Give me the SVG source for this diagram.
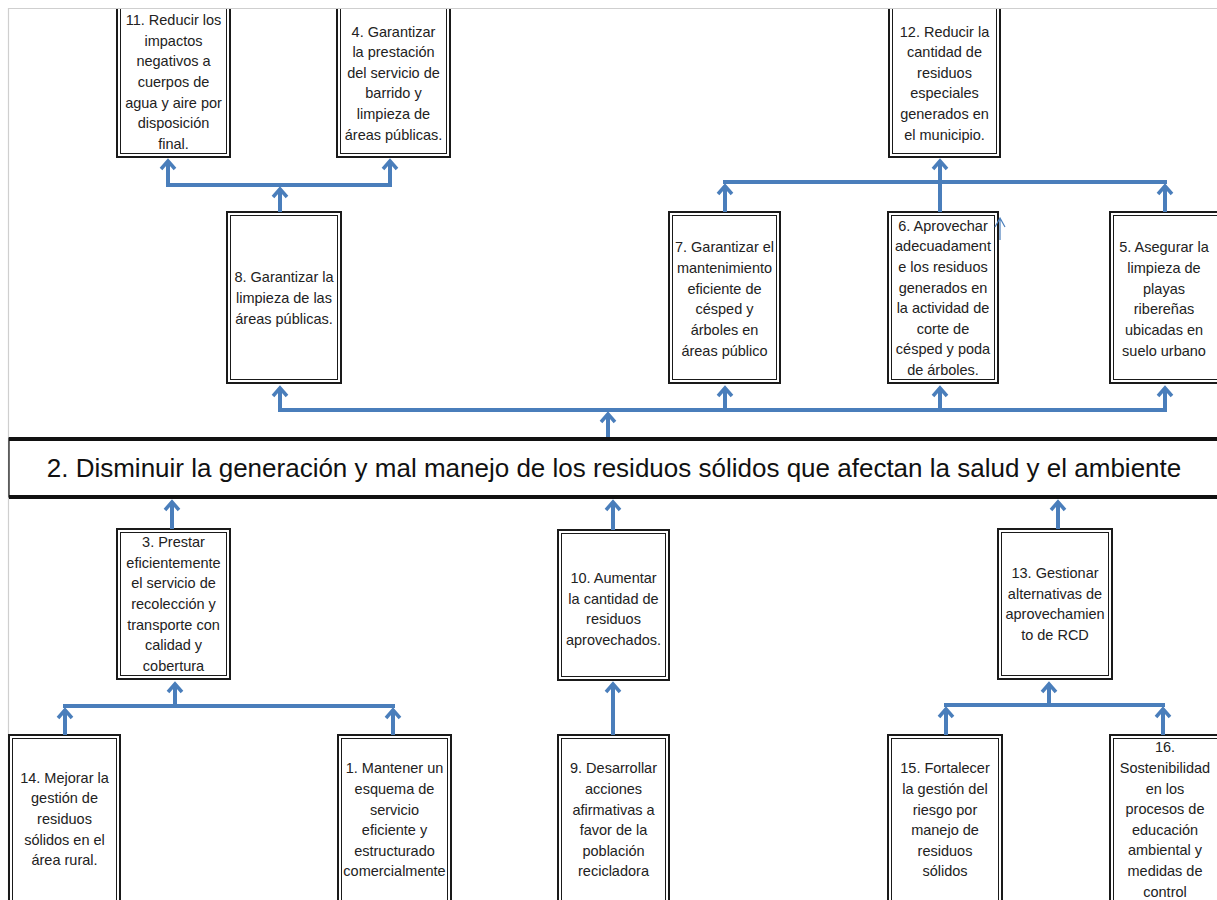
<svg xmlns="http://www.w3.org/2000/svg" width="1217" height="900" viewBox="0 0 1217 900">
<style>
.o{fill:#fff;stroke:#1a1a1a;stroke-width:2}
.i{fill:none;stroke:#1a1a1a;stroke-width:1}
.t{font-family:"Liberation Sans",Arial,sans-serif;font-size:14.5px;text-anchor:middle;fill:#222}
.h{font-family:"Liberation Sans",Arial,sans-serif;font-size:26px;text-anchor:middle;fill:#111}
.c{fill:none;stroke:#4a7ebb;stroke-width:4}
</style>
<defs>
<marker id="ah" markerUnits="userSpaceOnUse" markerWidth="24" markerHeight="24" viewBox="-12 -12 24 24" refX="0" refY="0" orient="auto" overflow="visible">
<path d="M-8,-7 L0,0 L-8,7" fill="none" stroke="#4a7ebb" stroke-width="3.5"/>
</marker>
</defs>
<rect width="1217" height="900" fill="#fff"/>

<g id="n11"><rect class="o" x="117" y="-10" width="113" height="167"/><rect class="i" x="120.5" y="-10" width="106" height="163.5"/>
<text class="t"><tspan x="173.5" y="25">11. Reducir los</tspan><tspan x="173.5" y="46">impactos</tspan><tspan x="173.5" y="66">negativos a</tspan><tspan x="173.5" y="87">cuerpos de</tspan><tspan x="173.5" y="108">agua y aire por</tspan><tspan x="173.5" y="128">disposición</tspan><tspan x="173.5" y="149">final.</tspan></text></g>

<g id="n4"><rect class="o" x="337" y="-10" width="113" height="167"/><rect class="i" x="340.5" y="-10" width="106" height="163.5"/>
<text class="t"><tspan x="393.5" y="37">4. Garantizar</tspan><tspan x="393.5" y="57">la prestación</tspan><tspan x="393.5" y="78">del servicio de</tspan><tspan x="393.5" y="98">barrido y</tspan><tspan x="393.5" y="119">limpieza de</tspan><tspan x="393.5" y="140">áreas públicas.</tspan></text></g>

<g id="n12"><rect class="o" x="889" y="-10" width="111" height="167"/><rect class="i" x="892.5" y="-10" width="104" height="163.5"/>
<text class="t"><tspan x="944.5" y="37">12. Reducir la</tspan><tspan x="944.5" y="57">cantidad de</tspan><tspan x="944.5" y="78">residuos</tspan><tspan x="944.5" y="98">especiales</tspan><tspan x="944.5" y="119">generados en</tspan><tspan x="944.5" y="140">el municipio.</tspan></text></g>

<g id="page-border"><rect x="0" y="0" width="1217" height="8" fill="#fff"/><path d="M8,8.5 H1217 M8.5,8 V900" stroke="#cfcfcf" stroke-width="1.2" fill="none"/></g>

<g id="n8"><rect class="o" x="227" y="212" width="114" height="171"/><rect class="i" x="230.5" y="215.5" width="107" height="164"/>
<text class="t"><tspan x="284" y="282">8. Garantizar la</tspan><tspan x="284" y="303">limpieza de las</tspan><tspan x="284" y="324">áreas públicas.</tspan></text></g>

<g id="n7"><rect class="o" x="669" y="212" width="111" height="171"/><rect class="i" x="672.5" y="215.5" width="104" height="164"/>
<text class="t"><tspan x="724.5" y="252">7. Garantizar el</tspan><tspan x="724.5" y="273">mantenimiento</tspan><tspan x="724.5" y="294">eficiente de</tspan><tspan x="724.5" y="314">césped y</tspan><tspan x="724.5" y="335">árboles en</tspan><tspan x="724.5" y="356">áreas público</tspan></text></g>

<g id="n6"><rect class="o" x="888" y="212" width="110" height="171"/><rect class="i" x="891.5" y="215.5" width="103" height="164"/>
<text class="t"><tspan x="943" y="231">6. Aprovechar</tspan><tspan x="943" y="251">adecuadament</tspan><tspan x="943" y="272">e los residuos</tspan><tspan x="943" y="293">generados en</tspan><tspan x="943" y="313">la actividad de</tspan><tspan x="943" y="334">corte de</tspan><tspan x="943" y="354">césped y poda</tspan><tspan x="943" y="375">de árboles.</tspan></text>
<path d="M995,227 L1000,218 L1005,227 M1000,219 V240" fill="none" stroke="#4a7ebb" stroke-width="1.2"/></g>

<g id="n5"><rect class="o" x="1110" y="212" width="115" height="171"/><rect class="i" x="1113.5" y="215.5" width="108" height="164"/>
<text class="t"><tspan x="1164" y="252">5. Asegurar la</tspan><tspan x="1164" y="273">limpieza de</tspan><tspan x="1164" y="294">playas</tspan><tspan x="1164" y="314">ribereñas</tspan><tspan x="1164" y="335">ubicadas en</tspan><tspan x="1164" y="356">suelo urbano</tspan></text></g>

<g id="n2"><rect x="9" y="438" width="1215" height="59" fill="#fff" stroke="#111" stroke-width="1.2"/><path d="M9,439 H1217 M9,497 H1217" stroke="#111" stroke-width="4"/>
<text class="h" x="614" y="477">2. Disminuir la generación y mal manejo de los residuos sólidos que afectan la salud y el ambiente</text></g>

<g id="n3"><rect class="o" x="117" y="529" width="113" height="150"/><rect class="i" x="120.5" y="532.5" width="106" height="143"/>
<text class="t"><tspan x="173.5" y="547">3. Prestar</tspan><tspan x="173.5" y="568">eficientemente</tspan><tspan x="173.5" y="588">el servicio de</tspan><tspan x="173.5" y="609">recolección y</tspan><tspan x="173.5" y="630">transporte con</tspan><tspan x="173.5" y="650">calidad y</tspan><tspan x="173.5" y="671">cobertura</tspan></text></g>

<g id="n10"><rect class="o" x="558" y="530" width="111" height="150"/><rect class="i" x="561.5" y="533.5" width="104" height="143"/>
<text class="t"><tspan x="613.5" y="583">10. Aumentar</tspan><tspan x="613.5" y="604">la cantidad de</tspan><tspan x="613.5" y="624">residuos</tspan><tspan x="613.5" y="645">aprovechados.</tspan></text></g>

<g id="n13"><rect class="o" x="998" y="529" width="114" height="150"/><rect class="i" x="1001.5" y="532.5" width="107" height="143"/>
<text class="t"><tspan x="1055" y="578">13. Gestionar</tspan><tspan x="1055" y="599">alternativas de</tspan><tspan x="1055" y="619">aprovechamien</tspan><tspan x="1055" y="640">to de RCD</tspan></text></g>

<g id="n14"><rect class="o" x="9" y="735" width="111" height="180"/><rect class="i" x="12.5" y="738.5" width="104" height="180"/>
<text class="t"><tspan x="64.5" y="783">14. Mejorar la</tspan><tspan x="64.5" y="803">gestión de</tspan><tspan x="64.5" y="824">residuos</tspan><tspan x="64.5" y="845">sólidos en el</tspan><tspan x="64.5" y="865">área rural.</tspan></text></g>

<g id="n1"><rect class="o" x="338" y="735" width="113" height="180"/><rect class="i" x="341.5" y="738.5" width="106" height="180"/>
<text class="t"><tspan x="394.5" y="773">1. Mantener un</tspan><tspan x="394.5" y="794">esquema de</tspan><tspan x="394.5" y="815">servicio</tspan><tspan x="394.5" y="835">eficiente y</tspan><tspan x="394.5" y="856">estructurado</tspan><tspan x="394.5" y="876">comercialmente</tspan></text></g>

<g id="n9"><rect class="o" x="558" y="735" width="111" height="180"/><rect class="i" x="561.5" y="738.5" width="104" height="180"/>
<text class="t"><tspan x="613.5" y="773">9. Desarrollar</tspan><tspan x="613.5" y="794">acciones</tspan><tspan x="613.5" y="815">afirmativas a</tspan><tspan x="613.5" y="835">favor de la</tspan><tspan x="613.5" y="856">población</tspan><tspan x="613.5" y="876">recicladora</tspan></text></g>

<g id="n15"><rect class="o" x="888" y="735" width="114" height="180"/><rect class="i" x="891.5" y="738.5" width="107" height="180"/>
<text class="t"><tspan x="945" y="773">15. Fortalecer</tspan><tspan x="945" y="794">la gestión del</tspan><tspan x="945" y="815">riesgo por</tspan><tspan x="945" y="835">manejo de</tspan><tspan x="945" y="856">residuos</tspan><tspan x="945" y="876">sólidos</tspan></text></g>

<g id="n16"><rect class="o" x="1110" y="735" width="115" height="180"/><rect class="i" x="1113.5" y="738.5" width="108" height="180"/>
<text class="t"><tspan x="1165" y="752">16.</tspan><tspan x="1165" y="773">Sostenibilidad</tspan><tspan x="1165" y="794">en los</tspan><tspan x="1165" y="814">procesos de</tspan><tspan x="1165" y="835">educación</tspan><tspan x="1165" y="855">ambiental y</tspan><tspan x="1165" y="876">medidas de</tspan><tspan x="1165" y="897">control</tspan></text></g>

<g id="connectors" class="c">
<path d="M166,185 H392"/>
<path d="M168,185 V161" marker-end="url(#ah)"/>
<path d="M390,185 V161" marker-end="url(#ah)"/>
<path d="M280,212 V189" marker-end="url(#ah)"/>
<path d="M723,182 H1167"/>
<path d="M725,212 V186" marker-end="url(#ah)"/>
<path d="M1165,212 V186" marker-end="url(#ah)"/>
<path d="M940,212 V161" marker-end="url(#ah)"/>
<path d="M278,410 H1167"/>
<path d="M280,410 V388" marker-end="url(#ah)"/>
<path d="M725,410 V388" marker-end="url(#ah)"/>
<path d="M940,410 V388" marker-end="url(#ah)"/>
<path d="M1165,410 V388" marker-end="url(#ah)"/>
<path d="M608,437 V414" marker-end="url(#ah)"/>
<path d="M172,529 V502" marker-end="url(#ah)"/>
<path d="M63,706 H395"/>
<path d="M175,706 V684" marker-end="url(#ah)"/>
<path d="M65,735 V710" marker-end="url(#ah)"/>
<path d="M393,735 V710" marker-end="url(#ah)"/>
<path d="M613,530 V502" marker-end="url(#ah)"/>
<path d="M613,735 V684" marker-end="url(#ah)"/>
<path d="M1058,529 V502" marker-end="url(#ah)"/>
<path d="M944,705 H1165"/>
<path d="M1049,705 V684" marker-end="url(#ah)"/>
<path d="M946,735 V709" marker-end="url(#ah)"/>
<path d="M1163,735 V709" marker-end="url(#ah)"/>
</g>
</svg>
